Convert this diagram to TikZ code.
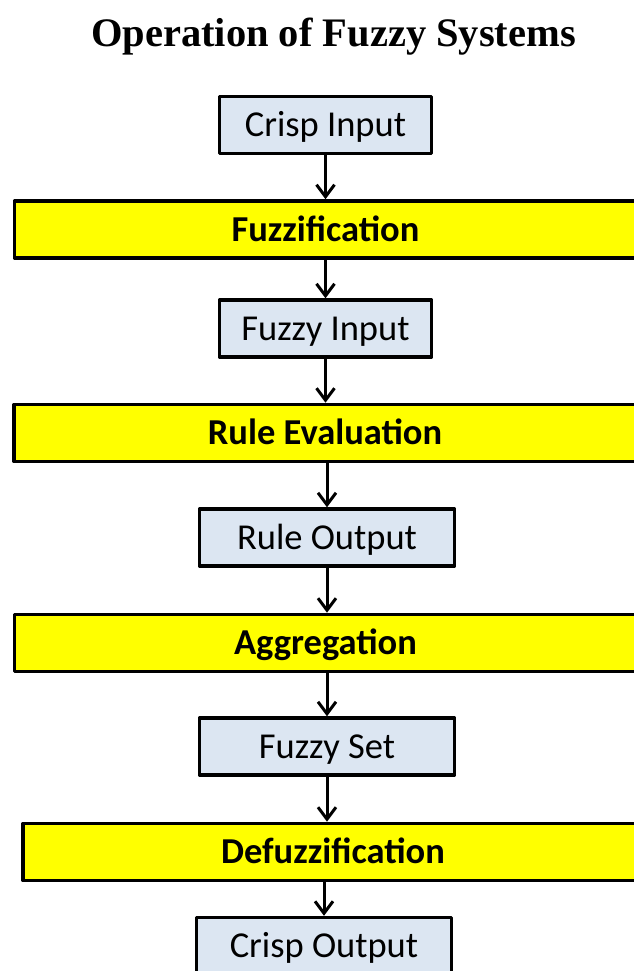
\documentclass[tikz,border=0pt]{standalone}
\usepackage{fontspec}
\setmainfont{Liberation Serif}
\newfontfamily\calibri{Carlito}
\usetikzlibrary{arrows.meta}
\definecolor{boxblue}{HTML}{DCE6F2}
\definecolor{baryellow}{HTML}{FFFF00}

\begin{document}
\begin{tikzpicture}[x=1pt,y=-1pt,line join=round,
  databox/.style={draw,line width=3.4pt,fill=boxblue,inner sep=0pt,
    minimum height=57pt,text height=26pt,text depth=3pt,
    font=\calibri\fontsize{36.5}{40}\selectfont},
  stepbar/.style={draw,line width=3.6pt,fill=baryellow,inner sep=0pt,
    minimum height=57pt,text height=26pt,text depth=3pt,
    font=\calibri\bfseries\fontsize{36.5}{40}\selectfont},
  flow/.style={line width=3pt,-{Straight Barb[length=12pt,width=18pt]}}]

% 画布（像素坐标，y 向下）
\useasboundingbox (0,0) rectangle (633,971);

% 标题
\node[anchor=base,font=\bfseries\fontsize{40.5}{44}\selectfont] (title) at (333.5,47)
  {Operation of Fuzzy Systems};

% 数据框与处理条（条的右端伸出画面）
\node[databox,minimum width=212pt] (crispin)  at (325.5,125)   {Crisp Input};
\node[stepbar,minimum width=622pt] (fuzzif)   at (325.5,229.5) {Fuzzification};
\node[databox,minimum width=212pt] (fuzzyin)  at (325.5,328.5) {Fuzzy Input};
\node[stepbar,minimum width=622pt] (ruleeval) at (325,433)     {Rule Evaluation};
\node[databox,minimum width=255pt] (ruleout)  at (327,537.5)   {Rule Output};
\node[stepbar,minimum width=622pt] (aggr)     at (325.5,643)   {Aggregation};
\node[databox,minimum width=255pt] (fuzzyset) at (327,746.5)   {Fuzzy Set};
\node[stepbar,minimum width=620pt] (defuzz)   at (333,852)     {Defuzzification};
\node[databox,minimum width=255pt] (crispout) at (324,946)     {Crisp Output};

% 箭头：框 -> 条
\draw[flow] (crispin.south)  -- (crispin.south |- fuzzif.north);
\draw[flow] (fuzzyin.south)  -- (fuzzyin.south |- ruleeval.north);
\draw[flow] (ruleout.south)  -- (ruleout.south |- aggr.north);
\draw[flow] (fuzzyset.south) -- (fuzzyset.south |- defuzz.north);

% 箭头：条 -> 框
\draw[flow] (fuzzyin.north |- fuzzif.south)   -- (fuzzyin.north);
\draw[flow] (ruleout.north |- ruleeval.south) -- (ruleout.north);
\draw[flow] (fuzzyset.north |- aggr.south)    -- (fuzzyset.north);
\draw[flow] (crispout.north |- defuzz.south)  -- (crispout.north);

\end{tikzpicture}
\end{document}
